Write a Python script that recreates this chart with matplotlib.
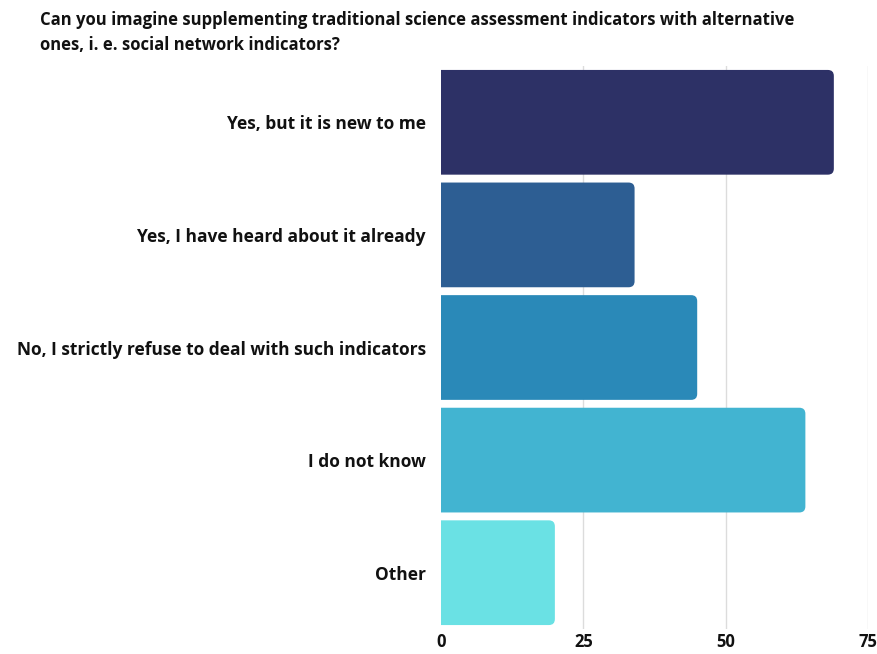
import matplotlib
matplotlib.use("Agg")
import matplotlib.pyplot as plt
from matplotlib.patches import FancyBboxPatch

categories = [
    "Yes, but it is new to me",
    "Yes, I have heard about it already",
    "No, I strictly refuse to deal with such indicators",
    "I do not know",
    "Other",
]
values = [69, 34, 45, 64, 20]
colors = ["#2d3166", "#2d5e93", "#2a89b8", "#42b4d1", "#6ae1e4"]
x_ticks = [0, 25, 50, 75]
title = ("Can you imagine supplementing traditional science assessment indicators with alternative\n"
         "ones, i. e. social network indicators?")

plt.rcParams["font.family"] = ["Open Sans", "DejaVu Sans"]

W, H = 878, 654
fig = plt.figure(figsize=(W / 100, H / 100), dpi=100)
left, right, top, bottom = 441 / W, 868 / W, 1 - 66 / H, 1 - 629 / H
ax = fig.add_axes([left, bottom, right - left, top - bottom])

xmax = 75
ax.set_xlim(0, xmax)
ax.set_ylim(len(categories) - 0.5, -0.5)

# pixel scale of the data units, for corner rounding
ax_w_px = (right - left) * W
ax_h_px = (top - bottom) * H
px_per_x = ax_w_px / xmax
px_per_y = ax_h_px / len(categories)

bar_h = 0.93
radius_px = 6
ax.set_axisbelow(True)
for xv in x_ticks[1:]:
    ax.axvline(xv, color="#dcdcdc", lw=1.0, zorder=0)

for i, (v, c) in enumerate(zip(values, colors)):
    x0 = -3  # left corners fall outside the axes and are clipped
    patch = FancyBboxPatch(
        (x0, i - bar_h / 2), v - x0, bar_h,
        boxstyle=f"round,pad=0,rounding_size={radius_px / px_per_x}",
        mutation_aspect=px_per_x / px_per_y,
        facecolor=c, edgecolor="none", zorder=2, clip_on=True,
    )
    ax.add_patch(patch)

ax.set_yticks(range(len(categories)))
ax.set_yticklabels(categories, fontsize=12.5, fontweight="bold", color="#111111")
ax.set_xticks(x_ticks)
ax.set_xticklabels([str(t) for t in x_ticks], fontsize=12, fontweight="bold", color="#111111")
ax.tick_params(axis="y", length=0, pad=11)
ax.tick_params(axis="x", length=0, pad=3)
for s in ax.spines.values():
    s.set_visible(False)

fig.text(40 / W, 1 - 11 / H, title, fontsize=12, fontweight="bold", color="#111111",
         ha="left", va="top", linespacing=1.5)

fig.savefig("out.png", dpi=100, facecolor="white")
